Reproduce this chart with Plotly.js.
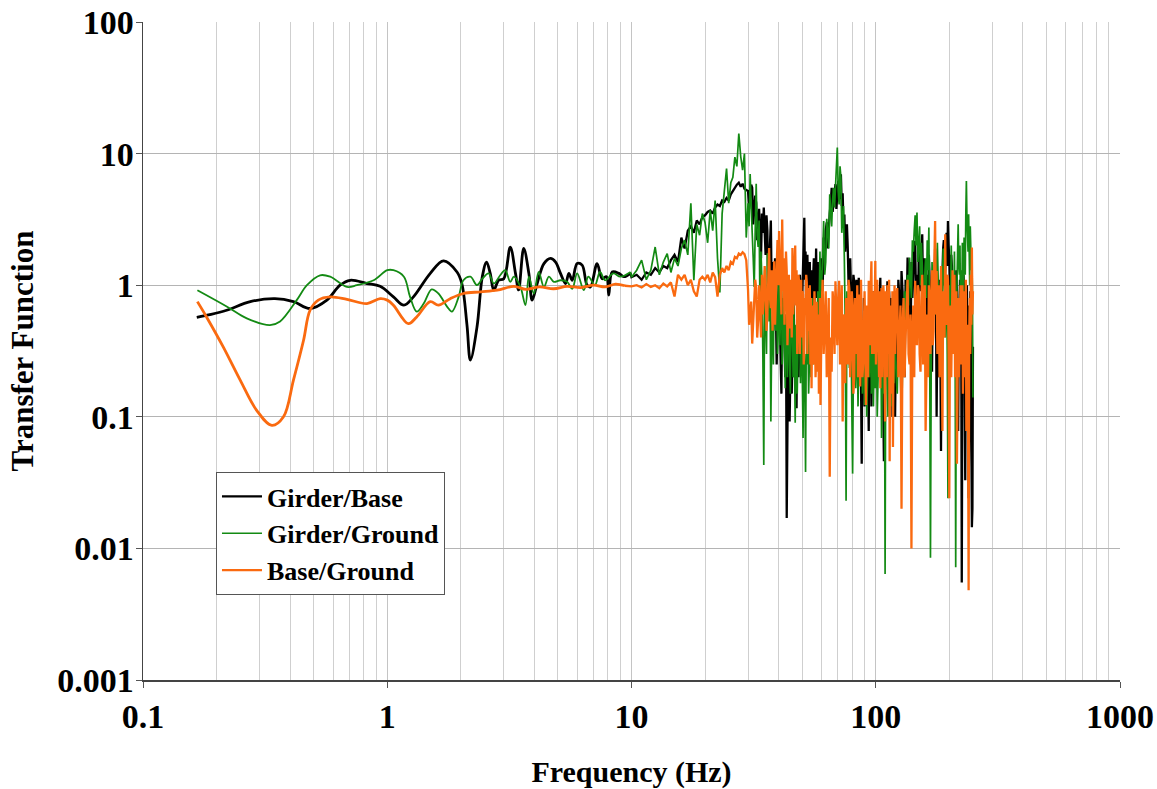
<!DOCTYPE html>
<html>
<head>
<meta charset="utf-8">
<script src="https://cdn.plot.ly/plotly-3.0.1.min.js"></script>
<style>html,body{margin:0;padding:0;background:#fff;}#chart{width:1157px;height:789px;}</style>
</head>
<body>
<div id="chart"></div>
<script>
// ---------- Data (Hz, transfer-function ratio) ----------
const seriesNames = ['Girder/Base', 'Girder/Ground', 'Base/Ground'];

// Low-frequency (smooth) part
const gbLowF = [0.166,0.19,0.22,0.275,0.347,0.413,0.483,0.566,0.641,0.705,0.826,0.935,1.06,1.17,1.28,1.5,1.7,1.93,2.02,2.12,2.19,2.33,2.45,2.55,2.64,2.73,2.86,3.0,3.19,3.35,3.45,3.62,3.8,3.92,4.11,4.38,4.66,4.89,5.12,5.37,5.54,5.72,5.99,6.28,6.58,6.79,7.23,7.58,7.9,8.07,8.34,8.88,9.31,9.91];
const gbLowV = [0.57,0.6,0.645,0.75,0.79,0.75,0.665,0.77,1.0,1.09,1.03,0.98,0.815,0.705,0.815,1.23,1.53,1.26,1.03,0.5,0.27,0.48,1.16,1.5,1.23,0.916,1.09,1.12,1.95,1.23,0.92,1.9,1.23,0.77,1.03,1.46,1.6,1.5,1.23,1.03,1.23,1.09,1.46,1.42,1.0,0.97,1.46,1.12,1.16,0.84,1.26,1.23,1.16,1.23];

const ggLowF = [0.167,0.22,0.266,0.331,0.364,0.426,0.469,0.531,0.584,0.684,0.751,0.88,1.0,1.06,1.17,1.24,1.32,1.41,1.52,1.62,1.76,1.84,1.96,2.05,2.19,2.33,2.45,2.6,2.73,2.9,3.04,3.19,3.3,3.51,3.68,3.8,3.98,4.17,4.38,4.59,4.81,5.12,5.45,5.72,5.99,6.38,6.66,7.08,7.43,7.8,8.43,9.0,9.91];
const ggLowV = [0.916,0.69,0.56,0.497,0.53,0.77,1.0,1.19,1.16,0.97,1.0,1.09,1.3,1.3,1.16,0.815,0.63,0.725,0.93,0.865,0.685,0.63,0.815,1.09,1.16,1.0,1.12,1.23,1.03,1.19,1.3,1.06,1.16,0.97,0.705,1.16,0.865,1.26,0.97,1.16,1.06,1.09,1.06,0.94,1.23,0.916,1.16,1.0,1.26,1.09,1.23,1.16,1.26];

const bgLowF = [0.167,0.182,0.213,0.25,0.292,0.337,0.376,0.413,0.454,0.483,0.522,0.584,0.684,0.826,0.935,1.0,1.06,1.22,1.32,1.5,1.62,1.81,2.05,2.41,2.82,3.3,3.7,4.2,4.8,5.45,6.2,7.0,7.8,8.6,9.4];
const bgLowV = [0.75,0.574,0.34,0.19,0.112,0.086,0.1,0.19,0.38,0.645,0.77,0.815,0.78,0.725,0.79,0.77,0.705,0.51,0.574,0.75,0.705,0.79,0.865,0.89,0.916,0.98,0.93,0.97,0.94,0.98,0.96,1.0,0.97,1.02,0.99];

// High-frequency (noisy) part, shared frequency bins
const fHigh = [10,10.5,11,11.5,12,12.5,13,13.5,14,14.5,15,15.5,16,16.5,17,17.5,18,18.5,19,19.5,
20,20.5,21,21.5,22,22.5,23,23.5,24,24.5,25,25.5,26,26.5,27,27.5,28,28.5,29,29.5,
30,30.3,30.6,30.9,31.2,31.5,31.8,32.1,32.4,32.7,33,33.3,33.6,33.9,34.2,34.5,34.8,35.1,35.4,35.7,
36,36.3,36.6,36.9,37.2,37.5,37.8,38.1,38.4,38.7,39,39.3,39.6,39.9,40.2,40.5,40.8,41.1,41.4,41.7,
42,42.3,42.6,42.9,43.2,43.5,43.8,44.1,44.4,44.7,45,45.3,45.6,45.9,46.2,46.5,46.8,47.1,47.4,47.7,
48,48.3,48.6,48.9,49.2,49.5,49.8,50.1,50.4,50.7,51,51.3,51.6,51.9,52.2,52.5,52.8,53.1,53.4,53.7,
54,54.3,54.6,54.9,55.2,55.5,55.8,56.1,56.4,56.7,57,57.3,57.6,57.9,58.2,58.5,58.8,59.1,59.4,59.7,
60,60.6,61.2,61.8,62.4,63,63.6,64.2,64.8,65.4,66,66.6,67.2,67.8,68.4,69,69.6,70.2,70.8,71.4,
72,72.6,73.2,73.8,74.4,75,75.6,76.2,76.8,77.4,78,78.6,79.2,79.8,80.4,81,81.6,82.2,82.8,83.4,
84,84.6,85.2,85.8,86.4,87,87.6,88.2,88.8,89.4,90,90.6,91.2,91.8,92.4,93,93.6,94.2,94.8,95.4,
96,96.6,97.2,97.8,98.4,99,99.6,100.2,100.8,101.4,102,102.6,103.2,103.8,104.4,105,105.6,106.2,106.8,107.4,
108,108.6,109.2,109.8,110.4,111,111.6,112.2,112.8,113.4,114,114.6,115.2,115.8,116.4,117,117.6,118.2,118.8,119.4,
120,121.25,122.5,123.75,125,126.25,127.5,128.75,130,131.25,132.5,133.75,135,136.25,137.5,138.75,140,141.25,142.5,143.75,
145,146.25,147.5,148.75,150,151.25,152.5,153.75,155,156.25,157.5,158.75,160,161.25,162.5,163.75,165,166.25,167.5,168.75,
170,171.25,172.5,173.75,175,176.25,177.5,178.75,180,181.25,182.5,183.75,185,186.25,187.5,188.75,190,191.25,192.5,193.75,
195,196.25,197.5,198.75,200,201.25,202.5,203.75,205,206.25,207.5,208.75,210,211.25,212.5,213.75,215,216.25,217.5,218.75,
220,221.25,222.5,223.75,225,226.25,227.5,228.75,230,231.25,232.5,233.75,235,236.25,237.5,238.75,240,241.25,242.5,243.75,
245,246.25,247.5,248.75,250];

const gbHighV = [1.15,1.2,1.1,1.25,1.2,1.35,1.25,1.4,1.35,1.55,1.7,1.5,2.3,1.9,2.6,2.8,2.5,3.1,2.9,3.3,
3.4,3.6,3.7,3.5,3.9,4.1,4.0,4.4,4.3,4.6,4.4,4.9,5.2,5.6,5.8,6.0,5.6,5.9,5.4,5.3,
5.2,3.8,4.6,5.8,5.5,2.9,3.7,4.8,4.2,2.2,3.1,3.8,2.4,1.6,3.5,2.5,3.9,2.8,1.7,3.4,
2.6,0.9,1.5,2.2,3.1,0.8,1.5,0.45,1.0,1.6,0.7,0.25,0.53,0.9,1.2,0.5,0.3,0.15,0.8,0.4,
0.71,0.35,0.2,0.6,0.017,0.08,0.3,0.7,0.092,0.2,0.5,0.15,0.3,0.8,0.6,0.2,0.25,0.45,0.116,0.7,
0.5,0.2,0.35,1.2,0.95,0.4,0.6,0.9,1.5,2.2,3.25,1.1,1.8,0.6,1.2,1.7,0.9,0.5,1.1,1.5,
0.7,0.45,1.3,0.6,0.95,1.3,1.6,0.7,1.4,1.1,1.9,0.8,1.2,1.5,0.71,0.5,1.1,0.8,1.6,1.2,
1.6,0.9,2.3,1.5,2.6,3.0,1.9,2.8,3.5,4.2,5.5,3.6,4.1,5.0,5.85,3.8,4.6,6.2,5.5,4.5,
6.96,4.0,5.0,2.8,3.45,1.8,2.4,2.9,1.93,1.0,1.28,1.6,0.9,0.5,0.85,1.2,1.07,0.35,0.6,1.1,
0.9,0.45,1.14,0.7,0.5,0.2,0.044,0.5,0.3,0.8,0.12,0.4,0.14,0.6,0.3,0.2,0.078,0.5,0.25,0.7,
0.12,0.3,0.4,0.9,0.67,0.25,0.5,1.0,0.67,0.35,0.8,0.25,0.6,0.9,1.14,0.4,0.5,0.8,0.3,0.15,
0.046,0.3,0.67,0.2,0.5,0.9,1.07,0.3,0.45,0.9,0.7,0.15,0.3,0.8,0.6,0.1,0.2,0.7,0.4,0.14,
0.1,0.6,0.35,1.1,0.8,0.3,1.28,0.9,0.5,0.2,1.1,0.6,1.62,1.0,0.7,0.3,1.5,0.8,1.3,1.9,
2.17,0.7,1.2,0.4,1.8,1.2,0.9,1.7,2.44,0.8,1.6,1.0,0.45,0.9,1.2,0.35,1.7,1.1,0.6,0.3,
0.22,0.9,1.3,0.6,1.9,1.0,0.1,0.5,0.2,0.7,1.1,0.4,0.055,0.8,1.5,1.9,2.2,1.0,1.3,1.8,
2.5,1.4,3.08,2.0,1.6,0.8,1.08,1.7,1.4,0.5,0.72,1.0,1.2,0.3,0.5,1.3,0.9,0.2,0.078,0.5,
0.6,1.1,0.3,0.8,0.0055,0.2,0.4,1.2,0.9,0.25,0.033,0.3,0.5,1.0,0.3,0.7,0.024,0.2,0.6,0.9,
0.4,0.04,0.0145,0.02,0.34];

const ggHighV = [1.15,1.3,1.55,1.1,1.3,1.95,1.2,1.5,1.74,1.25,1.6,1.4,1.9,2.2,1.7,4.2,1.09,2.9,2.4,3.5,
3.0,2.1,3.7,2.6,4.4,1.6,0.88,3.5,5.2,7.7,4.2,6.0,6.6,9.4,8.0,14.2,9.5,7.5,10.0,2.3,
4.2,2.8,7.0,3.5,2.5,1.6,0.97,2.6,5.9,2.4,1.95,3.1,0.57,1.8,1.07,0.3,0.043,1.3,0.65,0.3,
1.75,0.9,0.53,1.2,0.092,0.4,0.71,0.25,1.5,0.8,0.45,1.2,0.3,0.6,1.1,0.35,0.67,1.3,0.25,0.5,
0.9,0.4,0.165,0.6,0.47,0.2,0.62,1.0,0.25,0.15,0.55,0.8,0.4,0.2,0.7,0.3,0.09,0.5,0.35,0.15,
0.5,0.7,0.3,0.5,0.18,0.6,0.42,0.2,0.069,0.4,0.3,0.15,0.038,0.3,0.25,0.6,0.45,0.15,0.21,0.4,
0.5,0.2,0.35,0.8,0.6,0.25,0.3,0.6,0.45,0.3,0.7,0.35,0.5,0.9,0.6,0.4,0.95,1.8,0.75,1.3,
0.95,1.8,3.07,1.2,1.5,3.2,2.4,1.9,4.9,3.3,2.8,4.5,5.5,3.9,6.2,7.5,11.1,5.2,4.1,8.0,
6.6,2.5,3.0,4.0,1.52,0.5,0.023,0.9,0.67,0.3,0.235,0.8,0.5,0.12,0.037,0.25,0.4,0.6,0.165,0.35,
0.45,0.12,0.3,0.6,0.2,0.35,0.55,0.15,0.25,0.45,0.123,0.3,0.4,0.1,0.2,0.45,0.5,0.2,0.375,0.6,
0.15,0.3,0.45,0.12,0.3,0.5,0.165,0.25,0.35,0.1,0.2,0.4,0.45,0.2,0.25,0.35,0.069,0.25,0.3,0.5,
0.15,0.35,0.0064,0.2,0.3,0.45,0.2,0.1,0.45,0.25,0.15,0.4,0.35,0.12,0.25,0.45,0.4,0.2,0.18,0.35,
0.4,0.2,0.15,0.45,0.3,0.2,0.09,0.35,0.6,0.9,0.53,1.0,1.2,0.7,1.62,1.1,0.8,2.2,1.8,2.6,
3.4,2.0,3.56,1.5,2.05,2.8,1.0,2.1,1.44,0.9,0.5,1.2,1.6,0.8,2.2,1.3,2.74,0.4,0.0085,0.3,
1.5,0.9,0.66,1.3,1.8,0.6,1.0,2.1,1.15,0.35,0.5,0.9,1.4,0.5,0.8,1.9,1.6,0.7,0.4,0.9,
1.2,0.3,0.024,0.5,1.0,0.4,1.5,2.0,1.14,0.6,0.3,0.8,1.8,0.5,0.0072,0.6,1.0,1.6,2.9,1.4,
1.2,2.0,0.5,1.3,0.6,2.1,1.5,0.8,2.3,1.6,1.2,3.5,6.2,3.2,2.5,1.8,3.46,2.2,1.0,2.8,
2.17,1.3,1.6,0.9,0.14];

const bgHighV = [0.98,1.0,0.96,1.02,0.97,1.0,0.95,1.03,0.98,1.05,0.82,1.2,1.1,1.2,1.0,1.1,0.9,0.82,1.1,1.16,
1.1,1.2,1.05,1.25,1.15,0.82,1.2,1.35,1.25,1.4,1.3,1.5,1.45,1.64,1.6,1.74,1.7,1.78,1.72,1.55,
0.92,0.5,0.6,0.75,0.36,0.5,0.72,1.1,0.95,0.4,0.55,1.0,0.67,0.4,1.2,0.6,0.8,1.4,1.07,0.45,
0.6,1.1,1.92,0.8,0.67,1.3,0.45,0.9,1.52,0.5,0.9,1.5,2.2,1.0,2.58,1.6,1.1,0.6,3.16,0.9,
1.6,0.5,0.9,1.8,1.28,0.35,0.6,1.2,0.47,0.9,1.1,0.4,1.92,0.6,0.8,1.4,2.0,0.7,1.3,0.3,
0.55,1.2,1.0,0.3,0.67,1.1,0.4,0.9,0.85,0.25,0.33,0.8,0.6,1.2,1.05,0.3,0.95,0.6,0.45,1.0,
0.25,0.8,0.165,0.6,0.7,0.25,0.4,0.9,0.53,0.2,0.3,0.75,0.22,0.5,0.6,0.15,0.35,0.8,0.123,0.6,
0.6,1.1,0.3,0.5,0.9,0.2,0.4,0.8,0.035,0.4,0.22,0.9,0.7,0.3,1.07,0.5,0.35,0.8,1.08,0.25,
0.47,1.0,0.092,0.6,0.43,0.18,0.8,0.4,0.25,1.1,0.93,0.2,0.3,0.9,0.7,0.15,0.2,0.8,0.53,0.3,
1.0,0.2,0.85,0.5,0.17,1.1,0.53,0.2,0.25,0.8,0.9,0.35,0.123,0.7,0.6,0.2,1.08,0.4,0.35,1.0,
1.52,0.3,0.5,0.9,0.3,0.7,1.53,0.25,0.4,1.1,0.67,0.3,0.2,0.9,0.165,0.6,0.95,0.2,0.35,1.0,
0.8,0.25,0.092,0.9,0.53,0.2,1.0,0.6,0.3,1.1,0.046,0.4,0.7,0.15,0.25,0.9,0.059,0.3,0.53,1.0,
0.3,0.8,0.95,0.2,0.4,0.7,0.02,0.5,0.8,0.2,0.4,0.9,1.1,0.3,0.25,0.6,0.01,0.4,0.7,0.2,
1.08,0.4,0.35,1.0,0.9,0.3,0.22,0.8,1.2,0.25,0.5,1.0,0.078,0.45,0.6,0.2,1.0,0.5,0.3,0.9,
1.3,0.35,0.45,1.5,3.08,0.6,1.28,0.3,0.6,1.0,0.2,0.7,1.4,0.3,0.078,0.9,0.8,0.4,2.44,0.6,
0.5,1.2,1.1,0.3,0.024,0.5,0.7,0.2,0.93,1.3,0.3,0.8,1.2,0.2,0.45,0.9,0.044,0.35,0.8,0.2,
0.35,0.9,1.0,0.25,0.4,1.0,0.15,0.6,0.9,0.2,0.6,1.1,0.078,0.3,0.5,0.1,0.0048,0.4,0.8,0.3,
1.2,0.5,1.93,0.6,0.9];

// Axis ticks
const xTickVals = [0.1, 1, 10, 100, 1000];
const xTickText = ['0.1', '1', '10', '100', '1000'];
const xMinorVals = [0.2,0.3,0.4,0.5,0.6,0.7,0.8,0.9,2,3,4,5,6,7,8,9,20,30,40,50,60,70,80,90,200,300,400,500,600,700,800,900];
const yTickVals = [0.001, 0.01, 0.1, 1, 10, 100];
const yTickText = ['0.001', '0.01', '0.1', '1', '10', '100'];

// ---------- Styles ----------
const FONT = '"Liberation Serif", "Times New Roman", Times, serif';
const colors = ['#000000', '#138a13', '#fa6a10'];
const lowWidths = [2.8, 1.8, 2.8];
const highWidths = [2.3, 1.7, 2.3];

const lows = [[gbLowF, gbLowV], [ggLowF, ggLowV], [bgLowF, bgLowV]];
const highs = [gbHighV, ggHighV, bgHighV];

const traces = [];
for (let i = 0; i < 3; i++) {
  const [lf, lv] = lows[i];
  traces.push({
    x: lf, y: lv, type: 'scatter', mode: 'lines',
    line: {color: colors[i], width: lowWidths[i], shape: 'spline', smoothing: 1},
    legendgroup: 'g' + i, showlegend: false, hoverinfo: 'skip'
  });
  traces.push({
    x: [lf[lf.length - 1]].concat(fHigh),
    y: [lv[lv.length - 1]].concat(highs[i]),
    type: 'scatter', mode: 'lines', name: seriesNames[i],
    line: {color: colors[i], width: highWidths[i]},
    legendgroup: 'g' + i, showlegend: true, hoverinfo: 'skip'
  });
}

const layout = {
  width: 1157, height: 789,
  margin: {l: 143, r: 37, t: 22, b: 109, pad: 0},
  paper_bgcolor: '#ffffff', plot_bgcolor: '#ffffff',
  font: {family: FONT, color: '#000', size: 26, weight: 'bold'},
  showlegend: true,
  legend: {
    x: 0.0747, y: 0.316, xanchor: 'left', yanchor: 'top',
    bgcolor: '#ffffff', bordercolor: '#555555', borderwidth: 1,
    font: {family: FONT, size: 26, color: '#000', weight: 'bold'},
    tracegroupgap: 0, itemwidth: 40
  },
  xaxis: {
    type: 'log', range: [-1, 3],
    tickmode: 'array', tickvals: xTickVals, ticktext: xTickText,
    ticks: 'outside', ticklen: 6, tickwidth: 1, tickcolor: '#555',
    ticklabelstandoff: 0,
    tickfont: {family: FONT, size: 34, color: '#000', weight: 'bold'},
    showgrid: true, gridcolor: '#c4c4c4', gridwidth: 1,
    minor: {tickmode: 'array', tickvals: xMinorVals, showgrid: true, gridcolor: '#cfcfcf', gridwidth: 1, ticks: ''},
    showline: true, linecolor: '#444', linewidth: 1.5, mirror: false,
    zeroline: false,
    title: {text: 'Frequency (Hz)', standoff: 30, font: {family: FONT, size: 30, color: '#000', weight: 'bold'}}
  },
  yaxis: {
    type: 'log', range: [-3, 2],
    tickmode: 'array', tickvals: yTickVals, ticktext: yTickText,
    ticks: 'outside', ticklen: 6, tickwidth: 1, tickcolor: '#555',
    ticklabelstandoff: -5,
    tickfont: {family: FONT, size: 34, color: '#000', weight: 'bold'},
    showgrid: true, gridcolor: '#b4b4b4', gridwidth: 1,
    showline: true, linecolor: '#444', linewidth: 1.5, mirror: false,
    zeroline: false,
    title: {text: 'Transfer Function', standoff: 14, font: {family: FONT, size: 31, color: '#000', weight: 'bold'}}
  }
};

Plotly.newPlot('chart', traces, layout, {displayModeBar: false, staticPlot: true});
</script>
</body>
</html>
